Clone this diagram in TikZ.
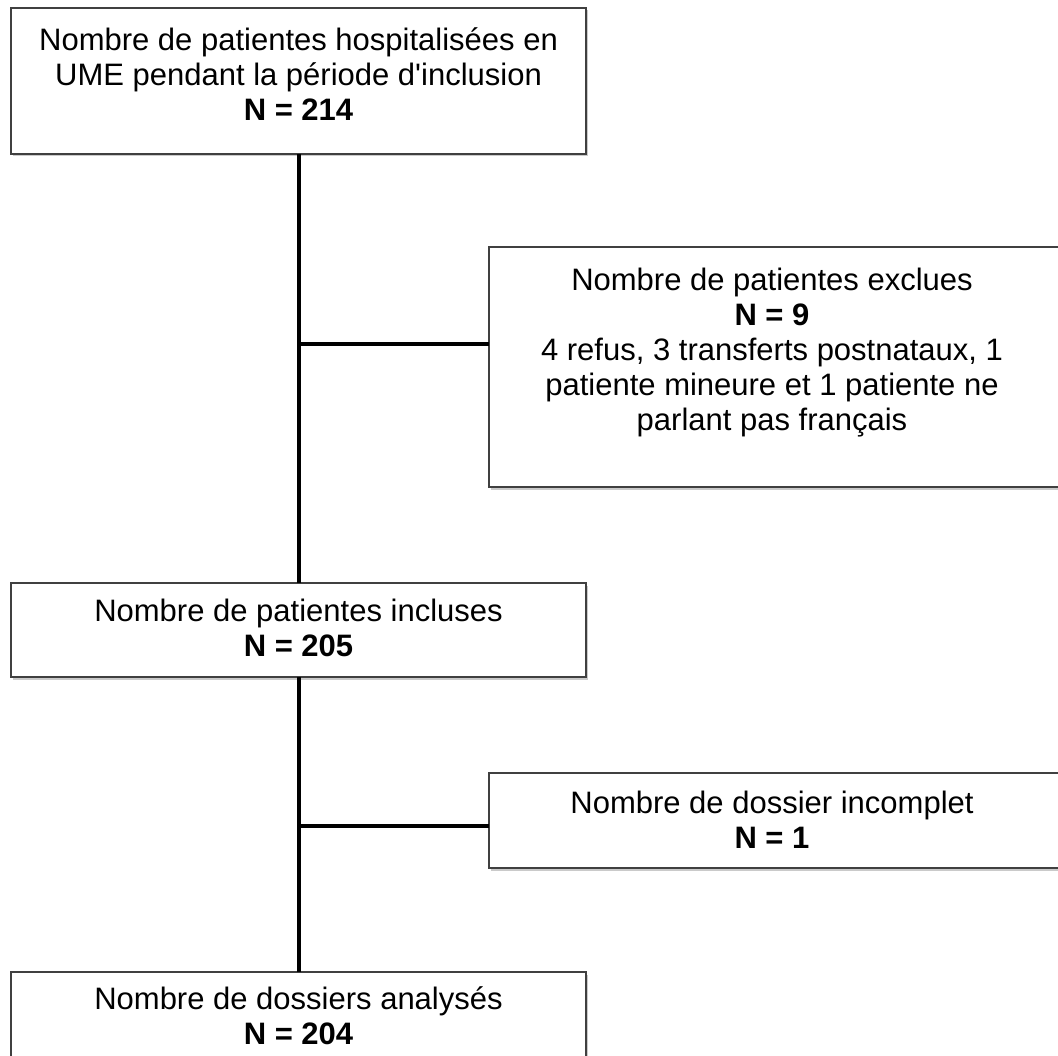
\documentclass[tikz,border=0pt]{standalone}
\usepackage{fontspec}
\setmainfont{Liberation Sans}
\usetikzlibrary{shadows}
\tikzset{
  flowbox/.style={draw=black!75, line width=1.8pt, fill=white,
    drop shadow={shadow xshift=2pt, shadow yshift=-2.5pt, opacity=0.35, fill=black!60}},
  link/.style={line width=4pt, black},
  txt/.style={align=center, font=\fontsize{31}{35}\selectfont, inner sep=0pt}
}
\begin{document}
\begin{tikzpicture}[x=1pt,y=-1pt]
\useasboundingbox (0,0) rectangle (1058,1056);
\clip (0,0) rectangle (1058,1056);
% boxes
\path[flowbox] (11,8) rectangle (586,154);
\path[flowbox] (489,247) rectangle (1075,487);
\path[flowbox] (11,583) rectangle (586,677);
\path[flowbox] (489,773) rectangle (1075,868);
\path[flowbox] (11,972) rectangle (586,1075);
% connector coordinates
\coordinate (a1) at (299,154);
\coordinate (a2) at (299,583);
\coordinate (j1) at (299,344);
\coordinate (e1) at (489,344);
\coordinate (a3) at (299,677);
\coordinate (a4) at (299,972);
\coordinate (j2) at (299,826);
\coordinate (e2) at (489,826);
\draw[link] (a1) -- (a2);
\draw[link] (j1) -- (e1);
\draw[link] (a3) -- (a4);
\draw[link] (j2) -- (e2);
% texts
\node[txt] (t1) at (298.5,74) {Nombre de patientes hospitalisées en\\UME pendant la période d\textquotesingle inclusion\\\textbf{N = 214}};
\node[txt] (t2) at (772,353) {Nombre de patientes exclues\\\textbf{N = 9}\\4 refus, 3 transferts postnataux, 1\\patiente mineure et 1 patiente ne\\parlant pas français};
\node[txt] (t3) at (298.5,628) {Nombre de patientes incluses\\\textbf{N = 205}};
\node[txt] (t4) at (772,820) {Nombre de dossier incomplet\\\textbf{N = 1}};
\node[txt] (t5) at (298.5,1016) {Nombre de dossiers analysés\\\textbf{N = 204}};
\end{tikzpicture}
\end{document}
